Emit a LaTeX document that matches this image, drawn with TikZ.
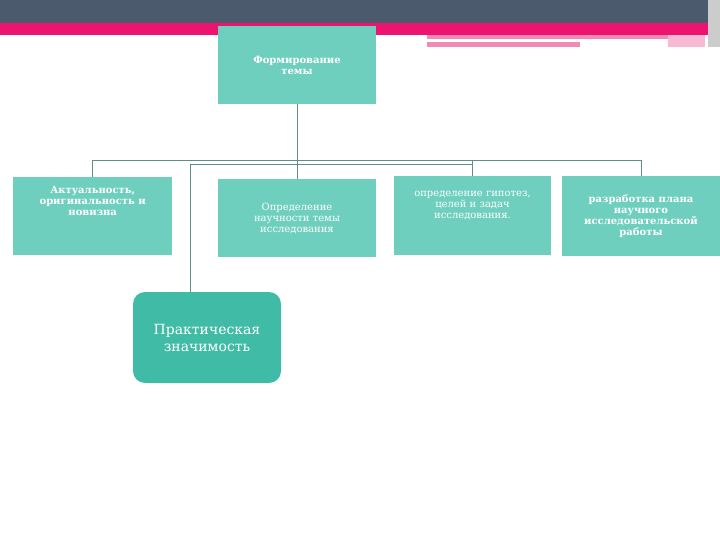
\documentclass[tikz,border=0pt]{standalone}
\usepackage{fontspec}
\setmainfont{DejaVu Serif}
\usetikzlibrary{positioning}
\definecolor{slate}{HTML}{4B5A6C}
\definecolor{hotpink}{HTML}{EC1470}
\definecolor{softpink}{HTML}{F08CB4}
\definecolor{tealbox}{HTML}{6FCFBE}
\definecolor{tealdark}{HTML}{3FBBA6}
\definecolor{linegray}{HTML}{5E8E88}
\tikzset{
  box/.style={fill=tealbox, text=white, minimum width=158pt, align=center, inner sep=2pt, font=\fontsize{10}{11}\selectfont},
  bbox/.style={box, font=\bfseries\fontsize{10}{11}\selectfont},
  link/.style={draw=linegray, line width=0.6pt}
}
\begin{document}
\begin{tikzpicture}[x=1pt,y=-1pt]
\useasboundingbox (0,0) rectangle (720,540);
% top band
\fill[slate] (0,0) rectangle (720,23);
\fill[hotpink] (0,23) rectangle (708,35);
\fill[softpink] (427,35) rectangle (668,39);
\fill[softpink] (427,42) rectangle (580,47);
\fill[softpink!60] (668,35) rectangle (705,47);
\fill[gray!40] (708,0) rectangle (720,47);
% boxes
\node[bbox, minimum height=78pt] (theme) at (297,65) {Формирование\\темы};
\node[bbox, minimum width=159pt, minimum height=78pt, anchor=north west, text depth=30pt] (actual) at (13,177) {Актуальность,\\оригинальность и\\новизна};
\node[box, minimum height=78pt] (science) at (297,218) {Определение\\научности темы\\исследования};
\node[box, minimum width=157pt, minimum height=79pt, text depth=22pt] (hyp) at (472.5,215.5) {определение гипотез,\\целей и задач\\исследования.};
\node[bbox, minimum width=158pt, minimum height=80pt] (plan) at (641,216) {разработка плана\\научного\\исследовательской\\работы};
\node[fill=tealdark, text=white, rounded corners=12pt, minimum width=148pt, minimum height=91pt, align=center, font=\fontsize{14}{17}\selectfont] (practice) at (207,337.5) {Практическая\\значимость};
% connectors
\coordinate (hub) at (297,160);
\draw[link] (theme.south) -- (hub);
\draw[link] (actual.north) |- (plan.north |- hub) -- (plan.north);
\draw[link] (science.north) -- (hub);
\draw[link] (hyp.north) -- (hyp.north |- hub);
\coordinate (sub) at (190,164);
\draw[link] (sub) -- (sub -| hyp.north);
\draw[link] (sub) -- (sub |- practice.north);
\end{tikzpicture}
\end{document}
